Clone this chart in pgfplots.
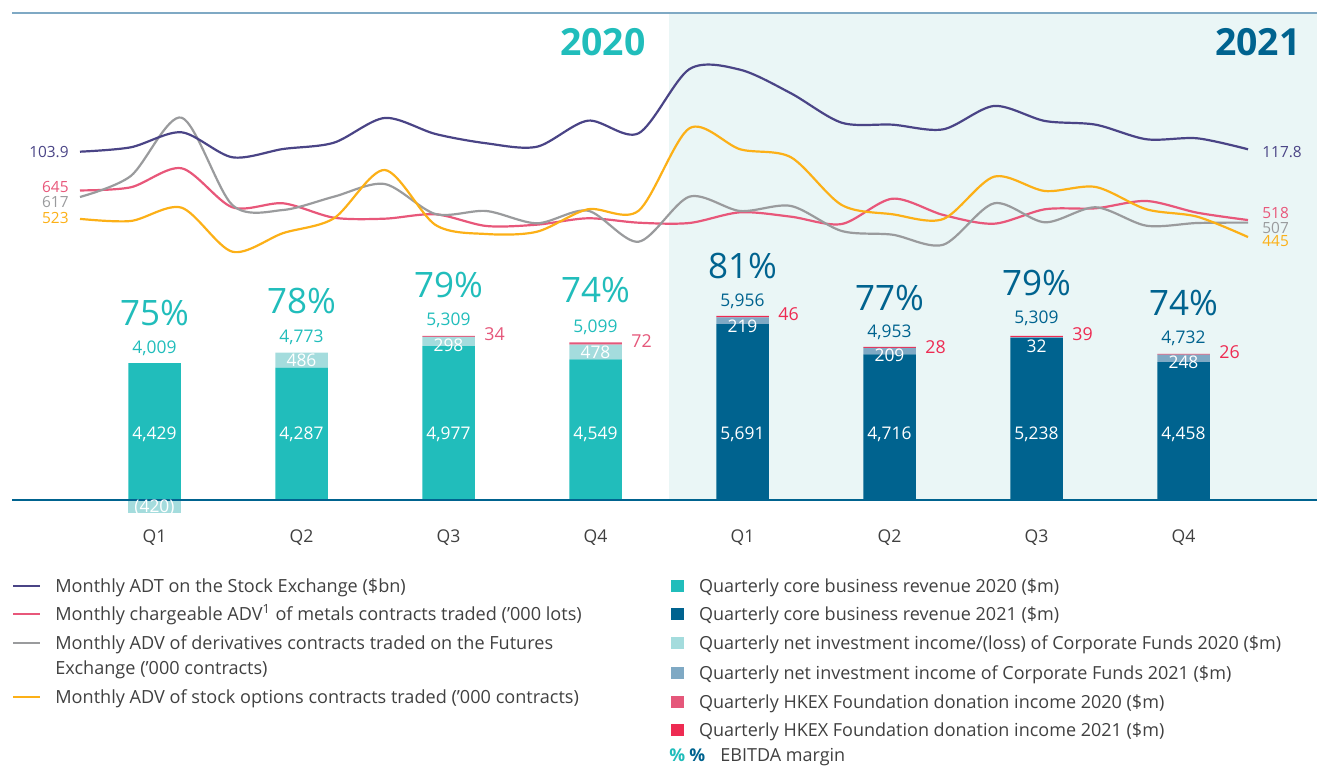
\documentclass[border=0pt]{standalone}
\usepackage{pgfplots}
\pgfplotsset{compat=1.18}
\usepackage{fontspec}
\setmainfont{Open Sans}
\definecolor{cADT}{RGB}{74,68,134}
\definecolor{cMet}{RGB}{232,87,122}
\definecolor{cDer}{RGB}{154,155,157}
\definecolor{cOpt}{RGB}{252,176,23}
\definecolor{cTeal}{RGB}{33,189,187}
\definecolor{cNavy}{RGB}{0,99,143}
\definecolor{cInvA}{RGB}{164,220,221}
\definecolor{cInvB}{RGB}{127,169,196}
\definecolor{cDonA}{RGB}{229,87,122}
\definecolor{cDonB}{RGB}{238,43,82}
\definecolor{cShade}{RGB}{234,246,246}
\definecolor{cTop}{RGB}{127,169,196}
\definecolor{cTxt}{RGB}{64,64,64}
\newcommand\fs[1]{\fontsize{#1}{#1}\selectfont}
\pgfplotsset{canvas/.style={width=658.5pt,height=383.5pt,scale only axis,at={(0,0)},anchor=south west,hide axis}}
\begin{document}
\begin{tikzpicture}
% background
\begin{axis}[canvas,xmin=0,xmax=1317,ymin=0,ymax=767,y dir=reverse]
\fill[cShade] (axis cs:669,13) rectangle (axis cs:1317,500);
\draw[cTop,line width=0.75pt] (axis cs:12,13) -- (axis cs:1317,13);
\end{axis}
% stacked bars
\begin{axis}[canvas,xmin=-1.05102,xmax=7.90816,ymin=-8641,ymax=16181,ybar stacked,bar width=26.25pt]
\addplot[fill=cTeal,draw=none] coordinates {(0,4429)(1,4287)(2,4977)(3,4549)(4,0)(5,0)(6,0)(7,0)};
\addplot[fill=cNavy,draw=none] coordinates {(0,0)(1,0)(2,0)(3,0)(4,5691)(5,4716)(6,5238)(7,4458)};
\addplot[fill=cInvA,draw=none] coordinates {(0,0)(1,486)(2,298)(3,478)(4,0)(5,0)(6,0)(7,0)};
\addplot[fill=cInvB,draw=none] coordinates {(0,0)(1,0)(2,0)(3,0)(4,219)(5,209)(6,32)(7,248)};
\addplot[fill=cDonA,draw=none] coordinates {(0,0)(1,0)(2,34)(3,72)(4,0)(5,0)(6,0)(7,0)};
\addplot[fill=cDonB,draw=none] coordinates {(0,0)(1,0)(2,0)(3,0)(4,46)(5,28)(6,39)(7,26)};
\end{axis}
% negative investment income Q1 2020
\begin{axis}[canvas,xmin=-1.05102,xmax=7.90816,ymin=-8641,ymax=16181,ybar,bar width=26.25pt,bar shift=0pt]
\addplot[fill=cInvA,draw=none] coordinates {(0,-420)};
\end{axis}
% ADV lines ('000)
\begin{axis}[canvas,xmin=-1.5753,xmax=24.3585,ymin=-1828.4,ymax=1462]
\addplot[cMet,line width=1.1pt,smooth,no markers] coordinates {(0,645)(1,658.5)(2,740)(3,572.7)(4,589.8)(5,528.1)(6,523.8)(7,542.7)(8,492.5)(9,498.2)(10,525.5)(11,506.6)(12,505.3)(13,551.2)(14,532.4)(15,501)(16,609.6)(17,539.7)(18,502.3)(19,564.1)(20,568.4)(21,599.7)(22,549.5)(23,518)};
\addplot[cDer,line width=1.1pt,smooth,no markers] coordinates {(0,617)(1,707)(2,957.1)(3,582.5)(4,561.1)(5,618.2)(6,672.6)(7,543.9)(8,556.8)(9,504.1)(10,558.1)(11,425.1)(12,618.2)(13,556.8)(14,578.3)(15,471)(16,455.1)(17,412.2)(18,589.8)(19,508.3)(20,572.7)(21,493.7)(22,505.3)(23,507)};
\addplot[cOpt,line width=1.1pt,smooth,no markers] coordinates {(0,523)(1,513.9)(2,571)(3,382.2)(4,462)(5,525.5)(6,732.7)(7,497)(8,458.1)(9,468)(10,564.1)(11,558.1)(12,911.6)(13,821.5)(14,787.2)(15,582.5)(16,542.7)(17,522.5)(18,704)(19,642.6)(20,659.8)(21,564.1)(22,532.4)(23,445)};
\end{axis}
% ADT line ($bn)
\begin{axis}[canvas,xmin=-1.5753,xmax=24.3585,ymin=-921.6,ymax=356.73]
\addplot[cADT,line width=1.1pt,smooth,no markers] coordinates {(0,103.9)(1,111.2)(2,136.2)(3,94.6)(4,108.4)(5,118.9)(6,160.1)(7,133.4)(8,117.9)(9,112.2)(10,155.6)(11,134.6)(12,241.5)(13,240.5)(14,201.2)(15,152.2)(16,148.9)(17,141.2)(18,180.1)(19,155.1)(20,148.9)(21,124.6)(22,126.2)(23,107.9)};
\end{axis}
% texts
\begin{axis}[canvas,xmin=0,xmax=1317,ymin=0,ymax=767,y dir=reverse,clip=false]
\draw[cNavy,line width=0.75pt] (axis cs:12,500) -- (axis cs:1317,500);
% year headers
\node[anchor=base east,text=cTeal,font=\fs{18.7pt}\bfseries,inner sep=0pt] at (axis cs:646,55) {2020};
\node[anchor=base east,text=cNavy,font=\fs{18.7pt}\bfseries,inner sep=0pt] at (axis cs:1301,55) {2021};
% line end labels
\begin{scope}[every node/.style={font=\fs{7.7pt},inner sep=0pt}]
\node[anchor=base east,text=cADT] at (axis cs:69,157.3) {103.9};
\node[anchor=base east,text=cMet] at (axis cs:69,192.8) {645};
\node[anchor=base east,text=cDer] at (axis cs:69,207.8) {617};
\node[anchor=base east,text=cOpt] at (axis cs:69,223.8) {523};
\node[anchor=base west,text=cADT] at (axis cs:1262,157.2) {117.8};
\node[anchor=base west,text=cMet] at (axis cs:1262,218.8) {518};
\node[anchor=base west,text=cDer] at (axis cs:1262,233.2) {507};
\node[anchor=base west,text=cOpt] at (axis cs:1262,246.2) {445};
\end{scope}
% EBITDA margins
\begin{scope}[every node/.style={font=\fs{17.5pt},inner sep=0pt,anchor=base}]
\node[text=cTeal] at (axis cs:154.5,325) {75\%};
\node[text=cTeal] at (axis cs:301.5,313.3) {78\%};
\node[text=cTeal] at (axis cs:448.5,297) {79\%};
\node[text=cTeal] at (axis cs:595.5,302) {74\%};
\node[text=cNavy] at (axis cs:742.5,278.3) {81\%};
\node[text=cNavy] at (axis cs:889.5,310) {77\%};
\node[text=cNavy] at (axis cs:1036.5,295.8) {79\%};
\node[text=cNavy] at (axis cs:1183.5,315) {74\%};
\end{scope}
% totals
\begin{scope}[every node/.style={font=\fs{8.7pt},inner sep=0pt,anchor=base}]
\node[text=cTeal] at (axis cs:154.5,353.5) {4,009};
\node[text=cTeal] at (axis cs:301.5,342.3) {4,773};
\node[text=cTeal] at (axis cs:448.5,325.5) {5,309};
\node[text=cTeal] at (axis cs:595.5,332.2) {5,099};
\node[text=cNavy] at (axis cs:742.5,306) {5,956};
\node[text=cNavy] at (axis cs:889.5,337) {4,953};
\node[text=cNavy] at (axis cs:1036.5,323.8) {5,309};
\node[text=cNavy] at (axis cs:1183.5,343.8) {4,732};
% core
\node[text=white] at (axis cs:154.5,439.5) {4,429};
\node[text=white] at (axis cs:301.5,439.5) {4,287};
\node[text=white] at (axis cs:448.5,439.5) {4,977};
\node[text=white] at (axis cs:595.5,439.5) {4,549};
\node[text=white] at (axis cs:742.5,439.5) {5,691};
\node[text=white] at (axis cs:889.5,439.5) {4,716};
\node[text=white] at (axis cs:1036.5,439.5) {5,238};
\node[text=white] at (axis cs:1183.5,439.5) {4,458};
% investment
\node[text=white] at (axis cs:154.5,512) {(420)};
\node[text=white] at (axis cs:301.5,366) {486};
\node[text=white] at (axis cs:448.5,351) {298};
\node[text=white] at (axis cs:595.5,358.5) {478};
\node[text=white] at (axis cs:742.5,332) {219};
\node[text=white] at (axis cs:889.5,361.5) {209};
\node[text=white] at (axis cs:1036.5,352) {32};
\node[text=white] at (axis cs:1183.5,368.5) {248};
\end{scope}
% donations
\begin{scope}[every node/.style={font=\fs{8.9pt},inner sep=0pt,anchor=base west}]
\node[text=cDonA] at (axis cs:484,340.5) {34};
\node[text=cDonA] at (axis cs:631,347) {72};
\node[text=cDonB] at (axis cs:778,320.5) {46};
\node[text=cDonB] at (axis cs:925,353.5) {28};
\node[text=cDonB] at (axis cs:1072,340.5) {39};
\node[text=cDonB] at (axis cs:1219,358.5) {26};
\end{scope}
% quarter labels
\begin{scope}[every node/.style={font=\fs{8.8pt},inner sep=0pt,anchor=base,text=cTxt}]
\node at (axis cs:154.5,542) {Q1};
\node at (axis cs:301.5,542) {Q2};
\node at (axis cs:448.5,542) {Q3};
\node at (axis cs:595.5,542) {Q4};
\node at (axis cs:742.5,542) {Q1};
\node at (axis cs:889.5,542) {Q2};
\node at (axis cs:1036.5,542) {Q3};
\node at (axis cs:1183.5,542) {Q4};
\end{scope}
% legend left
\draw[cADT,line width=1pt] (axis cs:13,586) -- (axis cs:40,586);
\draw[cMet,line width=1pt] (axis cs:13,614.3) -- (axis cs:40,614.3);
\draw[cDer,line width=1pt] (axis cs:13,643.3) -- (axis cs:40,643.3);
\draw[cOpt,line width=1pt] (axis cs:13,696.7) -- (axis cs:40,696.7);
\begin{scope}[every node/.style={font=\fs{9.05pt},inner sep=0pt,anchor=base west,text=cTxt}]
\node at (axis cs:55,592.5) {Monthly ADT on the Stock Exchange (\$bn)};
\node at (axis cs:55,620.8) {Monthly chargeable ADV\textsuperscript{1} of metals contracts traded (’000 lots)};
\node at (axis cs:55,649.8) {Monthly ADV of derivatives contracts traded on the Futures};
\node at (axis cs:55,674.8) {Exchange (’000 contracts)};
\node at (axis cs:55,703.2) {Monthly ADV of stock options contracts traded (’000 contracts)};
\end{scope}
\begin{scope}[every node/.style={font=\fs{9.0pt},inner sep=0pt,anchor=base west,text=cTxt}]
\node at (axis cs:698.6,592.5) {Quarterly core business revenue 2020 (\$m)};
\node at (axis cs:698.6,620.8) {Quarterly core business revenue 2021 (\$m)};
\node at (axis cs:698.6,649.8) {Quarterly net investment income/(loss) of Corporate Funds 2020 (\$m)};
\node at (axis cs:698.6,679.8) {Quarterly net investment income of Corporate Funds 2021 (\$m)};
\node at (axis cs:698.6,708.3) {Quarterly HKEX Foundation donation income 2020 (\$m)};
\node at (axis cs:698.6,736.5) {Quarterly HKEX Foundation donation income 2021 (\$m)};
\node at (axis cs:720,761.5) {EBITDA margin};
\node[text=cTeal,font=\fs{8.8pt}\bfseries] at (axis cs:669,761.5) {\%};
\node[text=cNavy,font=\fs{8.8pt}\bfseries] at (axis cs:689,761.5) {\%};
\end{scope}
\fill[cTeal] (axis cs:670.5,580) rectangle (axis cs:683.5,592);
\fill[cNavy] (axis cs:670.5,608.3) rectangle (axis cs:683.5,620.3);
\fill[cInvA] (axis cs:670.5,637.3) rectangle (axis cs:683.5,649.3);
\fill[cInvB] (axis cs:670.5,667.3) rectangle (axis cs:683.5,679.3);
\fill[cDonA] (axis cs:670.5,695.7) rectangle (axis cs:683.5,707.7);
\fill[cDonB] (axis cs:670.5,724) rectangle (axis cs:683.5,736);
\end{axis}
\pgfresetboundingbox
\path (0,0) rectangle (658.5pt,383.5pt);
\end{tikzpicture}
\end{document}
